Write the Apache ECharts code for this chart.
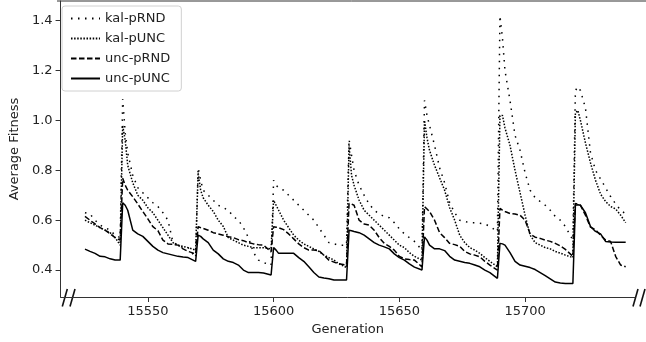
<!DOCTYPE html>
<html>
<head>
<meta charset="utf-8">
<script src="https://cdn.jsdelivr.net/npm/echarts@6/dist/echarts.min.js"></script>
<style>html,body{margin:0;padding:0;background:#fff;}#c{width:646px;height:342px;}</style>
</head>
<body>
<div id="c"></div>
<script>
const generations = [
 15525,15527,15529,15531,15533,15535,15537,15539,
 15540,15541,15542,15544,15546,15548,15550,15552,15554,15556,15558,15560,15562,15564,15566,15569,
 15570,15571,15572,15574,15576,15578,15580,15582,15584,15586,15588,15590,15592,15594,15596,15599,
 15600,15601,15602,15604,15606,15608,15610,15612,15614,15616,15618,15620,15622,15624,15626,15629,
 15630,15631,15632,15634,15636,15638,15640,15642,15644,15646,15648,15650,15652,15654,15656,15659,
 15660,15661,15662,15664,15666,15668,15670,15672,15674,15676,15678,15680,15682,15684,15686,15689,
 15690,15691,15692,15694,15696,15698,15700,15702,15704,15706,15708,15710,15712,15714,15716,15719,
 15720,15721,15722,15724,15726,15728,15730,15732,15734,15736,15738,15740
];
const kalPRND = [
 0.63,0.625,0.6,0.58,0.57,0.56,0.54,0.53,
 1.086,0.95,0.87,0.78,0.73,0.71,0.69,0.67,0.655,0.63,0.6,0.51,0.5,0.49,0.49,0.45,
 0.81,0.76,0.72,0.7,0.68,0.66,0.65,0.64,0.615,0.6,0.57,0.53,0.47,0.44,0.43,0.42,
 0.76,0.74,0.73,0.72,0.7,0.68,0.66,0.64,0.62,0.6,0.57,0.54,0.51,0.505,0.5,0.5,
 0.924,0.86,0.8,0.74,0.7,0.665,0.64,0.625,0.615,0.61,0.59,0.565,0.545,0.53,0.515,0.48,
 1.08,1.02,0.98,0.9,0.81,0.75,0.67,0.63,0.6,0.595,0.59,0.59,0.588,0.585,0.575,0.555,
 1.42,1.33,1.2,1.08,0.94,0.88,0.79,0.72,0.69,0.675,0.66,0.64,0.615,0.6,0.575,0.52,
 1.12,1.135,1.12,1.05,0.87,0.8,0.765,0.73,0.695,0.665,0.64,0.625
];
const kalPUNC = [
 0.6,0.59,0.58,0.57,0.56,0.55,0.53,0.5,
 0.98,0.92,0.82,0.75,0.7,0.68,0.65,0.63,0.6,0.57,0.54,0.51,0.5,0.495,0.49,0.48,
 0.79,0.72,0.69,0.66,0.635,0.6,0.575,0.53,0.52,0.51,0.5,0.495,0.49,0.49,0.49,0.485,
 0.68,0.66,0.64,0.6,0.57,0.54,0.52,0.505,0.495,0.485,0.475,0.46,0.45,0.44,0.425,0.41,
 0.9,0.78,0.74,0.68,0.64,0.62,0.6,0.58,0.56,0.54,0.52,0.5,0.49,0.47,0.455,0.44,
 1.0,0.93,0.88,0.82,0.77,0.72,0.65,0.6,0.54,0.51,0.49,0.48,0.467,0.45,0.435,0.413,
 1.02,1.02,0.97,0.9,0.8,0.71,0.62,0.54,0.51,0.5,0.49,0.485,0.475,0.468,0.46,0.45,
 1.03,1.04,1.0,0.91,0.83,0.76,0.705,0.675,0.655,0.645,0.62,0.59
];
const uncPRND = [
 0.615,0.6,0.585,0.57,0.56,0.545,0.53,0.52,
 0.768,0.74,0.72,0.694,0.665,0.635,0.605,0.574,0.558,0.52,0.505,0.503,0.5,0.485,0.475,0.465,
 0.574,0.57,0.567,0.56,0.55,0.545,0.54,0.534,0.53,0.522,0.518,0.51,0.505,0.502,0.5,0.473,
 0.574,0.572,0.57,0.562,0.545,0.525,0.505,0.49,0.48,0.48,0.478,0.46,0.44,0.432,0.425,0.42,
 0.667,0.665,0.66,0.6,0.585,0.58,0.56,0.53,0.507,0.495,0.48,0.455,0.445,0.442,0.44,0.413,
 0.654,0.645,0.635,0.6,0.55,0.53,0.507,0.502,0.495,0.475,0.465,0.46,0.453,0.435,0.42,0.4,
 0.647,0.64,0.635,0.627,0.625,0.62,0.6,0.545,0.532,0.527,0.52,0.515,0.507,0.497,0.483,0.455,
 0.667,0.665,0.66,0.62,0.572,0.562,0.54,0.52,0.515,0.455,0.42,0.413
];
const uncPUNC = [
 0.484,0.475,0.467,0.455,0.453,0.445,0.44,0.44,
 0.67,0.66,0.64,0.56,0.545,0.535,0.515,0.495,0.48,0.47,0.465,0.46,0.455,0.452,0.45,0.435,
 0.54,0.535,0.525,0.51,0.48,0.465,0.445,0.435,0.43,0.42,0.4,0.39,0.39,0.39,0.388,0.38,
 0.49,0.48,0.467,0.467,0.467,0.467,0.45,0.435,0.413,0.39,0.372,0.368,0.365,0.36,0.36,0.36,
 0.56,0.558,0.555,0.55,0.54,0.525,0.51,0.5,0.493,0.485,0.465,0.45,0.44,0.425,0.412,0.4,
 0.533,0.52,0.5,0.485,0.485,0.478,0.455,0.44,0.435,0.43,0.427,0.42,0.413,0.4,0.39,0.367,
 0.507,0.505,0.5,0.47,0.435,0.42,0.415,0.41,0.402,0.39,0.378,0.365,0.352,0.348,0.346,0.346,
 0.66,0.662,0.66,0.63,0.575,0.555,0.545,0.515,0.513,0.512,0.512,0.512
];
const xTicks = [15550, 15600, 15650, 15700];
const yTicks = [0.4, 0.6, 0.8, 1.0, 1.2, 1.4];
const seriesNames = ['kal-pRND', 'kal-pUNC', 'unc-pRND', 'unc-pUNC'];

const FONT = 'DejaVu Sans';
const INK = '#222';
function pts(vals){ return generations.map((g,i)=>[g, vals[i]]); }
const styles = [
  {type:[1.5,5.5], width:1.5},
  {type:[1.5,1.6], width:1.5},
  {type:[5.5,2.5], width:1.5},
  {type:'solid', width:1.5}
];
const allVals = [kalPRND, kalPUNC, uncPRND, uncPUNC];

const chart = echarts.init(document.getElementById('c'), null, {renderer:'canvas'});
chart.setOption({
  animation:false,
  backgroundColor:'#fff',
  textStyle:{fontFamily:FONT},
  grid:{left:57, right:11, top:1, bottom:45, containLabel:false},
  legend:{
    orient:'vertical', left:62, top:6,
    itemWidth:29, itemHeight:10, itemGap:7,
    padding:[6,11,6,8],
    borderColor:'#d0d0d0', borderWidth:1, borderRadius:3,
    itemStyle:{opacity:0},
    textStyle:{fontFamily:FONT, fontSize:13, color:INK},
    data:seriesNames
  },
  xAxis:{
    type:'value', min:15515.3, max:15743.7,
    name:'Generation', nameLocation:'middle', nameGap:24,
    nameTextStyle:{fontFamily:FONT, fontSize:13, color:INK},
    axisLine:{show:true, lineStyle:{color:'#333', width:1}},
    axisTick:{show:true, inside:false, length:5, customValues:xTicks, lineStyle:{color:'#333'}},
    axisLabel:{customValues:xTicks, margin:8, fontFamily:FONT, fontSize:13, color:INK,
      formatter:v=>String(Math.round(v))},
    splitLine:{show:false}
  },
  yAxis:{
    type:'value', min:0.292, max:1.479,
    name:'Average Fitness', nameLocation:'middle', nameGap:36, nameRotate:90,
    nameTextStyle:{fontFamily:FONT, fontSize:13, color:INK},
    axisLine:{show:true, lineStyle:{color:'#333', width:1}},
    axisTick:{show:true, inside:false, length:5, customValues:yTicks, lineStyle:{color:'#333'}},
    axisLabel:{customValues:yTicks, margin:8, fontFamily:FONT, fontSize:13, color:INK,
      formatter:v=>Number(v).toFixed(1)},
    splitLine:{show:false}
  },
  series: seriesNames.map((n,i)=>({
    name:n, type:'line', data:pts(allVals[i]),
    showSymbol:false, symbol:'none',
    lineStyle:{color:'#000', width:styles[i].width, type:styles[i].type, cap:'butt'},
    itemStyle:{color:'#000'},
    z: 2 + i
  })),
  graphic:[
    {type:'line', shape:{x1:57, y1:1, x2:646, y2:1}, style:{stroke:'#333', lineWidth:1}, silent:true},
    {type:'line', shape:{x1:62.3, y1:306.5, x2:67.3, y2:289}, style:{stroke:'#111', lineWidth:1.6}, silent:true},
    {type:'line', shape:{x1:70, y1:306.5, x2:75, y2:289}, style:{stroke:'#111', lineWidth:1.6}, silent:true},
    {type:'line', shape:{x1:633, y1:306.5, x2:638, y2:289}, style:{stroke:'#111', lineWidth:1.6}, silent:true},
    {type:'line', shape:{x1:640, y1:306.5, x2:645, y2:289}, style:{stroke:'#111', lineWidth:1.6}, silent:true}
  ]
});
</script>
</body>
</html>
